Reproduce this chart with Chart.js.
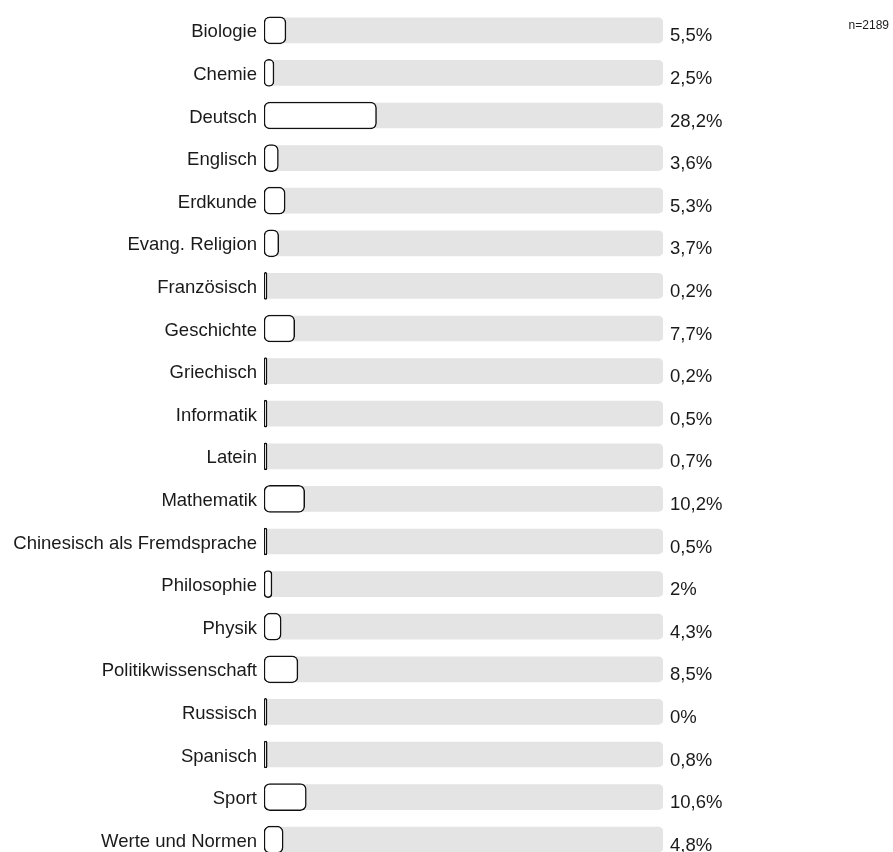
<!DOCTYPE html>
<html>
<head>
<meta charset="utf-8">
<script src="https://cdn.jsdelivr.net/npm/chart.js@4"></script>
<style>
  html, body { margin: 0; padding: 0; background: #fff; overflow: hidden; }
  #wrap { width: 893px; height: 862px; position: relative; }
</style>
</head>
<body>
<div id="wrap"><canvas id="chart"></canvas></div>
<script>
// Fächer und Anteile (in %)
var subjects = ['Biologie','Chemie','Deutsch','Englisch','Erdkunde','Evang. Religion','Französisch',
  'Geschichte','Griechisch','Informatik','Latein','Mathematik','Chinesisch als Fremdsprache',
  'Philosophie','Physik','Politikwissenschaft','Russisch','Spanisch','Sport','Werte und Normen']
var shares = [5.5, 2.5, 28.2, 3.6, 5.3, 3.7, 0.2, 7.7, 0.2, 0.5, 0.7, 10.2, 0.5, 2, 4.3, 8.5, 0, 0.8, 10.6, 4.8]
var shareLabels = ['5,5%','2,5%','28,2%','3,6%','5,3%','3,7%','0,2%','7,7%','0,2%','0,5%','0,7%','10,2%',
  '0,5%','2%','4,3%','8,5%','0%','0,8%','10,6%','4,8%']
var total = 'n=2189'
var track = subjects.map(function(){ return 100 })

var font = 'Arial, "Liberation Sans", sans-serif'

// draws the percent text right of the grey track and the n in the corner
var valueText = {
  id: 'valueText',
  afterDraw: function(chart){
    var c = chart.ctx
    var meta = chart.getDatasetMeta(1)
    c.save()
    c.fillStyle = '#1a1a1a'
    c.font = '18.5px ' + font
    c.textBaseline = 'middle'
    c.textAlign = 'left'
    for (var i = 0; i < meta.data.length; i++){
      c.fillText(shareLabels[i], chart.chartArea.right + 7, meta.data[i].y + 6)
    }
    c.font = '12px ' + font
    c.textAlign = 'right'
    c.textBaseline = 'top'
    c.fillText(total, 889, 20)
    c.restore()
  }
}

new Chart(document.getElementById('chart'), {
  type: 'bar',
  data: {
    labels: subjects,
    datasets: [{
      data: shares,
      backgroundColor: '#ffffff',
      borderColor: '#111',
      borderWidth: 1.5,
      borderSkipped: false,
      borderRadius: 6,
      barThickness: 27,
      minBarLength: 3,
      grouped: false,
      order: 1
    }, {
      data: track,
      backgroundColor: '#e4e4e4',
      borderWidth: 0,
      borderSkipped: false,
      borderRadius: 5,
      barThickness: 25,
      grouped: false,
      order: 2
    }]
  },
  options: {
    indexAxis: 'y',
    responsive: true,
    maintainAspectRatio: false,
    animation: false,
    layout: { padding: { top: 9, bottom: 1, left: 0, right: 230 } },
    plugins: { legend: { display: false }, tooltip: { enabled: false } },
    scales: {
      x: { display: false, min: 0, max: 100 },
      y: {
        border: { display: false },
        grid: { display: false, drawTicks: false },
        ticks: { color: '#1a1a1a', font: { size: 18.5, family: font }, padding: 7, labelOffset: 2 },
        afterFit: function(scale){
          scale.width = 264
          scale.paddingTop = 0
          scale.paddingBottom = 0
        }
      }
    }
  },
  plugins: [valueText]
})
</script>
</body>
</html>
